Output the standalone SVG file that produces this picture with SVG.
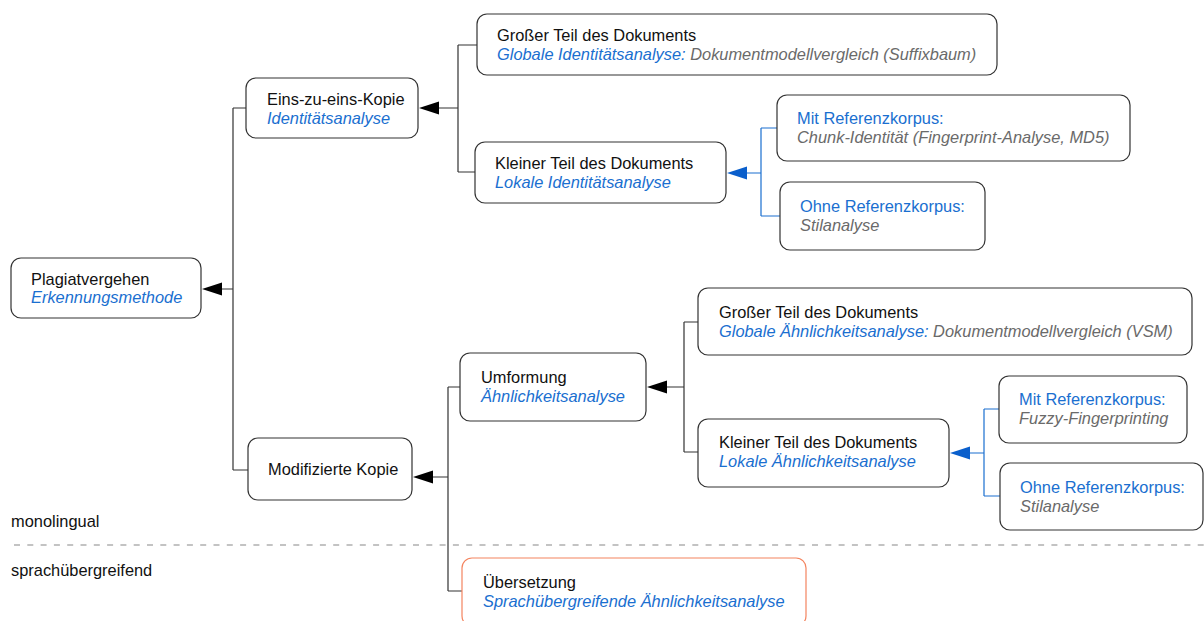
<svg xmlns="http://www.w3.org/2000/svg" width="1204" height="621" viewBox="0 0 1204 621">
  <style>
    text { font-family: "Liberation Sans", Arial, sans-serif; font-size: 16.4px; fill: #111; }
    .box { fill: #fff; stroke: #333; stroke-width: 1.2; }
    .box-alt { fill: #fff; stroke: #f4845f; stroke-width: 1.2; }
    .blue { fill: #1a6fd0; font-style: italic; }
    .blue-up { fill: #1a6fd0; }
    .grey { fill: #6a6a6a; font-style: italic; }
    .link { fill: none; stroke: #333; stroke-width: 1.2; }
    .link-blue { fill: none; stroke: #1a6fd0; stroke-width: 1.2; }
    .head { fill: #000; }
    .head-blue { fill: #0a5fcc; }
  </style>

  <!-- connectors -->
  <g id="connectors">
    <!-- root level -->
    <path class="link" d="M222 289 H233 M233 108 V470 M233 108 H246 M233 470 H248"/>
    <polygon class="head" points="202,289 222,282.5 222,295.5"/>
    <!-- identity branch -->
    <path class="link" d="M438 108 H458 M458 45 V172 M458 45 H477 M458 172 H475"/>
    <polygon class="head" points="419,108 439,101.5 439,114.5"/>
    <path class="link-blue" d="M746 173 H761 M761 128 V216 M761 128 H777 M761 216 H780"/>
    <polygon class="head-blue" points="727,173 747,166.5 747,179.5"/>
    <!-- modified copy branch -->
    <path class="link" d="M432 477 H448 M448 387 V591 M448 387 H460 M448 591 H462"/>
    <polygon class="head" points="413,477 433,470.5 433,483.5"/>
    <path class="link" d="M667 387 H684 M684 322 V452 M684 322 H698 M684 452 H698"/>
    <polygon class="head" points="647,387 667,380.5 667,393.5"/>
    <path class="link-blue" d="M969 453 H984 M984 409 V496 M984 409 H999 M984 496 H1000"/>
    <polygon class="head-blue" points="950,453 970,446.5 970,459.5"/>
  </g>

  <!-- language separator -->
  <g id="separator">
    <line x1="14" y1="545" x2="1204" y2="545" stroke="#888" stroke-width="1.2" stroke-dasharray="6 7.3"/>
    <text x="11" y="527">monolingual</text>
    <text x="11" y="576">sprachübergreifend</text>
  </g>

  <g id="plagiat">
    <rect class="box" x="11" y="258" width="190" height="60" rx="10"/>
    <text x="31" y="285">Plagiatvergehen</text>
    <text x="31" y="303" class="blue">Erkennungsmethode</text>
  </g>

  <g id="eins-zu-eins">
    <rect class="box" x="246" y="78" width="172" height="60" rx="10"/>
    <text x="267" y="105">Eins-zu-eins-Kopie</text>
    <text x="267" y="124" class="blue">Identitätsanalyse</text>
  </g>

  <g id="gross-identitaet">
    <rect class="box" x="477" y="14" width="520" height="61" rx="10"/>
    <text x="497" y="41">Großer Teil des Dokuments</text>
    <text x="497" y="60"><tspan class="blue">Globale Identitätsanalyse:</tspan><tspan class="grey"> Dokumentmodellvergleich (Suffixbaum)</tspan></text>
  </g>

  <g id="klein-identitaet">
    <rect class="box" x="475" y="142" width="251" height="61" rx="10"/>
    <text x="495" y="169">Kleiner Teil des Dokuments</text>
    <text x="495" y="188" class="blue">Lokale Identitätsanalyse</text>
  </g>

  <g id="mit-ref-identitaet">
    <rect class="box" x="777" y="95" width="353" height="66" rx="10"/>
    <text x="797" y="124" class="blue-up">Mit Referenzkorpus:</text>
    <text x="797" y="143" class="grey">Chunk-Identität (Fingerprint-Analyse, MD5)</text>
  </g>

  <g id="ohne-ref-identitaet">
    <rect class="box" x="780" y="182" width="205" height="68" rx="10"/>
    <text x="800" y="212" class="blue-up">Ohne Referenzkorpus:</text>
    <text x="800" y="231" class="grey">Stilanalyse</text>
  </g>

  <g id="modifiziert">
    <rect class="box" x="248" y="438" width="164" height="62" rx="10"/>
    <text x="268" y="475">Modifizierte Kopie</text>
  </g>

  <g id="umformung">
    <rect class="box" x="460" y="353" width="186" height="68" rx="10"/>
    <text x="481" y="383">Umformung</text>
    <text x="481" y="402" class="blue">Ähnlichkeitsanalyse</text>
  </g>

  <g id="gross-aehnlichkeit">
    <rect class="box" x="698" y="288" width="494" height="67" rx="10"/>
    <text x="719" y="318">Großer Teil des Dokuments</text>
    <text x="719" y="337"><tspan class="blue">Globale Ähnlichkeitsanalyse:</tspan><tspan class="grey"> Dokumentmodellvergleich (VSM)</tspan></text>
  </g>

  <g id="klein-aehnlichkeit">
    <rect class="box" x="698" y="419" width="251" height="68" rx="10"/>
    <text x="719" y="448">Kleiner Teil des Dokuments</text>
    <text x="719" y="467" class="blue">Lokale Ähnlichkeitsanalyse</text>
  </g>

  <g id="mit-ref-aehnlichkeit">
    <rect class="box" x="999" y="376" width="188" height="67" rx="10"/>
    <text x="1019" y="405" class="blue-up">Mit Referenzkorpus:</text>
    <text x="1019" y="424" class="grey">Fuzzy-Fingerprinting</text>
  </g>

  <g id="ohne-ref-aehnlichkeit">
    <rect class="box" x="1000" y="463" width="203" height="67" rx="10"/>
    <text x="1020" y="493" class="blue-up">Ohne Referenzkorpus:</text>
    <text x="1020" y="512" class="grey">Stilanalyse</text>
  </g>

  <g id="uebersetzung">
    <rect class="box-alt" x="462" y="558" width="344" height="68" rx="10"/>
    <text x="483" y="588">Übersetzung</text>
    <text x="483" y="607" class="blue">Sprachübergreifende Ähnlichkeitsanalyse</text>
  </g>
</svg>
